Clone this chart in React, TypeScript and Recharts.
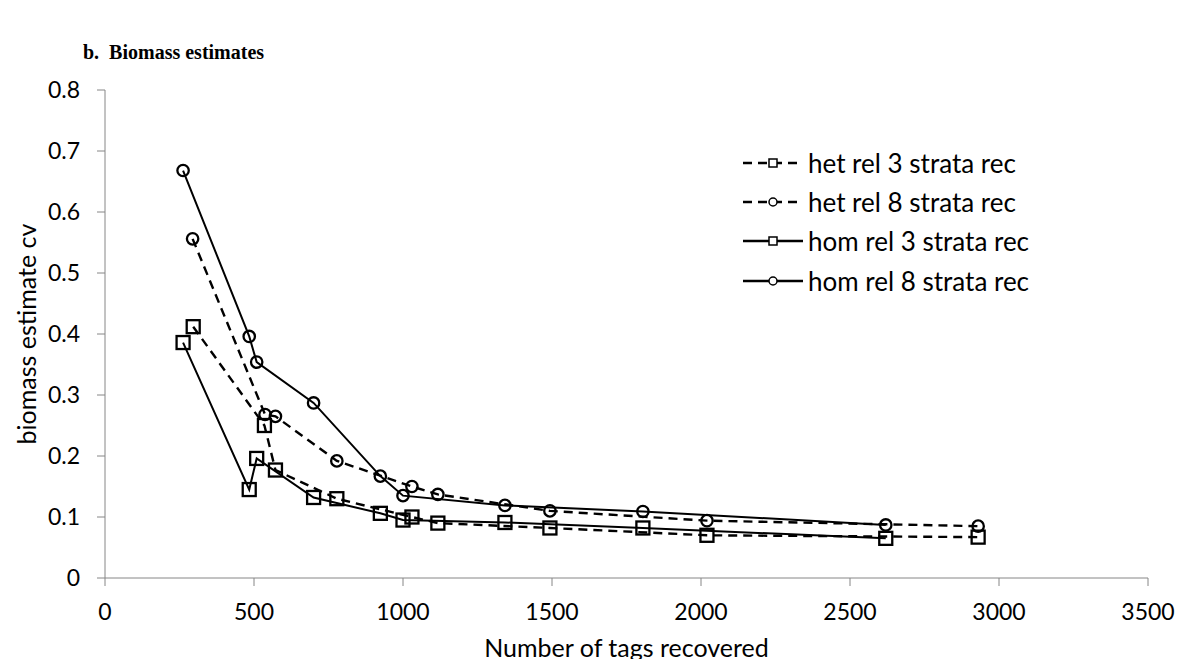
import { Line, LineChart, XAxis, YAxis } from 'recharts'

// number of tags recovered (x) and biomass estimate cv (y) per series
const hetRel3X = [296, 535, 572, 778, 1030, 1117, 1493, 2020, 2930]
const hetRel3Y = [0.412, 0.25, 0.177, 0.13, 0.1, 0.09, 0.082, 0.07, 0.067]
const hetRel8X = [294, 537, 572, 778, 1030, 1117, 1493, 2020, 2930]
const hetRel8Y = [0.556, 0.268, 0.265, 0.192, 0.15, 0.137, 0.11, 0.094, 0.085]
const homRel3X = [262, 484, 509, 700, 924, 1000, 1342, 1805, 2620]
const homRel3Y = [0.386, 0.145, 0.196, 0.132, 0.106, 0.095, 0.091, 0.082, 0.065]
const homRel8X = [262, 484, 509, 700, 924, 1000, 1342, 1805, 2620]
const homRel8Y = [0.668, 0.396, 0.354, 0.287, 0.167, 0.135, 0.119, 0.109, 0.087]

const xTicks = [0, 500, 1000, 1500, 2000, 2500, 3000, 3500]
const yTicks = [0, 0.1, 0.2, 0.3, 0.4, 0.5, 0.6, 0.7, 0.8]
const seriesNames = ['het rel 3 strata rec', 'het rel 8 strata rec', 'hom rel 3 strata rec', 'hom rel 8 strata rec']

const toPoints = (xs: number[], ys: number[]) => xs.map((x, i) => ({ x, y: ys[i] }))

const series = [
  { name: seriesNames[0], data: toPoints(hetRel3X, hetRel3Y), dashed: true, marker: 'square' },
  { name: seriesNames[1], data: toPoints(hetRel8X, hetRel8Y), dashed: true, marker: 'circle' },
  { name: seriesNames[2], data: toPoints(homRel3X, homRel3Y), dashed: false, marker: 'square' },
  { name: seriesNames[3], data: toPoints(homRel8X, homRel8Y), dashed: false, marker: 'circle' },
]

const AXIS = '#868686'
const FONT = 'Lato, "Open Sans", sans-serif'

function makeDot(marker: string) {
  return (props: any) => {
    const { cx, cy, index } = props
    if (cx == null || cy == null) return <g key={index} />
    if (marker === 'square') {
      return (
        <rect key={index} x={cx - 6.5} y={cy - 6.5} width={13} height={13}
          fill="none" stroke="#000" strokeWidth={2.3} strokeDasharray="none" />
      )
    }
    return <circle key={index} cx={cx} cy={cy} r={5.7} fill="none" stroke="#000" strokeWidth={2.3} strokeDasharray="none" />
  }
}

function LegendBox() {
  return (
    <div style={{ position: 'absolute', left: 742, top: 143, fontFamily: FONT, fontSize: 26, color: '#000' }}>
      {series.map((s) => (
        <div key={s.name} style={{ display: 'flex', alignItems: 'center', height: 39.3 }}>
          <svg width={62} height={20} style={{ marginRight: 4 }}>
            <line x1={1} y1={10} x2={61} y2={10} stroke="#000" strokeWidth={2.5}
              strokeDasharray={s.dashed ? '9 6' : undefined} />
            {s.marker === 'square' ? (
              <rect x={27} y={6} width={8} height={8} fill="#fff" stroke="#000" strokeWidth={1.5} />
            ) : (
              <circle cx={31} cy={10} r={4} fill="#fff" stroke="#000" strokeWidth={1.5} />
            )}
          </svg>
          <span>{s.name}</span>
        </div>
      ))}
    </div>
  )
}

export default function App() {
  return (
    <div style={{ position: 'relative', width: 1186, height: 667, margin: -8, background: '#fff', overflow: 'hidden' }}>
      <div style={{ position: 'absolute', left: 83, top: 38, fontFamily: '"Liberation Serif", serif', fontWeight: 'bold', fontSize: 20, lineHeight: '28px' }}>
        b.&nbsp;&nbsp;Biomass estimates
      </div>
      <LineChart width={1186} height={667} margin={{ top: 90, right: 38, bottom: 0, left: 0 }} style={{ fontFamily: FONT }}>
        <XAxis
          type="number"
          dataKey="x"
          domain={[0, 3500]}
          ticks={xTicks}
          height={89}
          stroke={AXIS}
          tickSize={8}
          tickMargin={18}
          tick={{ fontSize: 23, fill: '#000', fontFamily: FONT }}
          label={{ value: 'Number of tags recovered', position: 'insideBottom', offset: 10, fill: '#000', fontSize: 25, fontFamily: FONT }}
        />
        <YAxis
          type="number"
          dataKey="y"
          domain={[0, 0.8]}
          ticks={yTicks}
          width={105}
          stroke={AXIS}
          tickSize={8}
          tickMargin={17}
          tickFormatter={(v: number) => (v === 0 ? '0' : v.toFixed(1))}
          tick={{ fontSize: 23, fill: '#000', fontFamily: FONT }}
          label={{ value: 'biomass estimate cv', angle: -90, position: 'insideLeft', offset: 27, fill: '#000', fontSize: 25, fontFamily: FONT, style: { textAnchor: 'middle' } }}
        />
        {series.map((s) => (
          <Line
            key={s.name}
            name={s.name}
            data={s.data}
            dataKey="y"
            type="linear"
            stroke="#000"
            strokeWidth={s.dashed ? 2.4 : 2}
            strokeDasharray={s.dashed ? '9 6' : undefined}
            dot={makeDot(s.marker)}
            activeDot={false}
            isAnimationActive={false}
          />
        ))}
      </LineChart>
      <LegendBox />
    </div>
  )
}
